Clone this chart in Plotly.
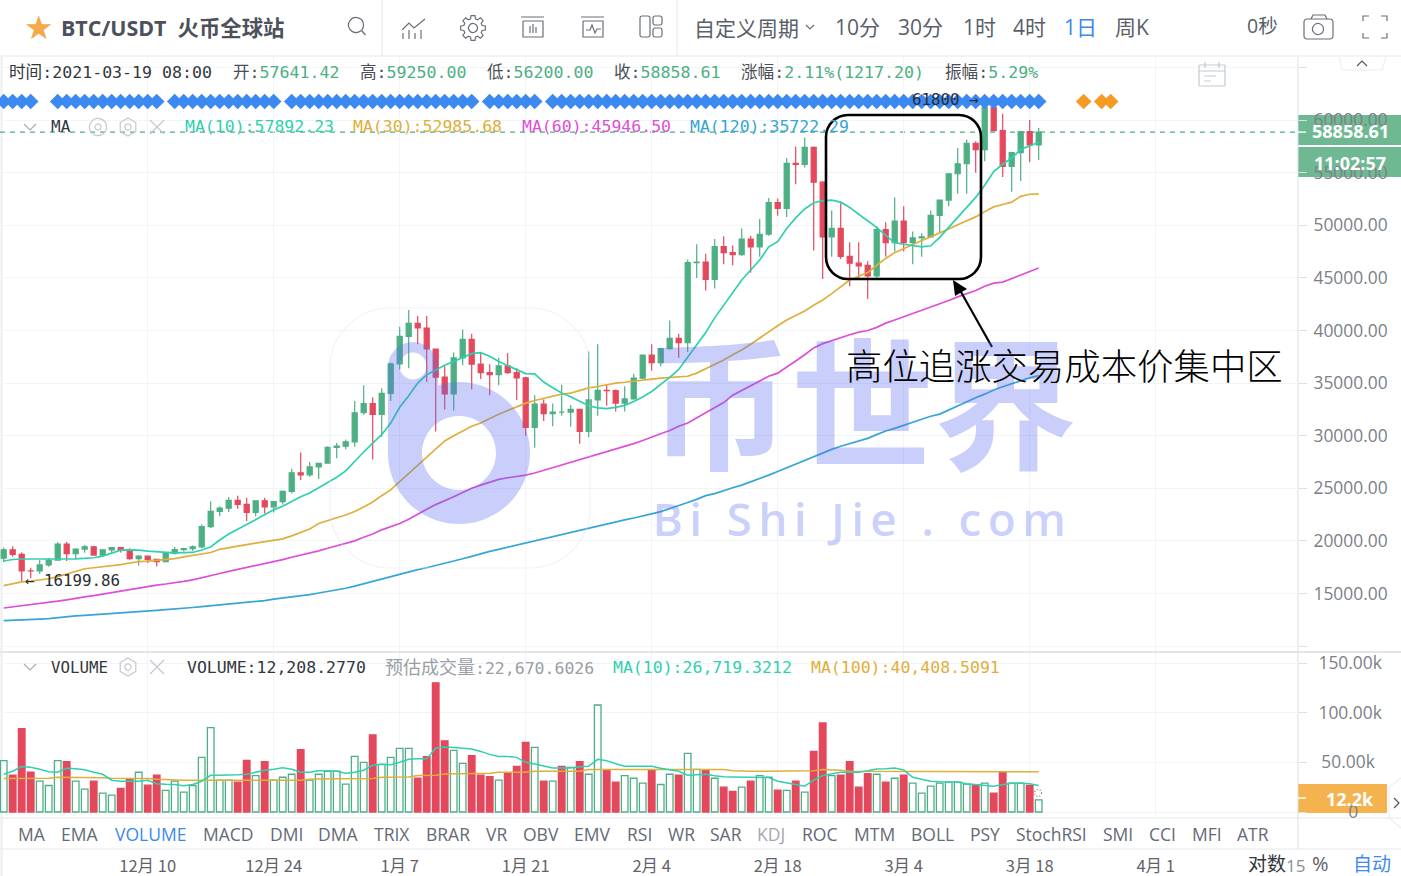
import math
import pandas as pd
import plotly.graph_objects as go

W, H = 1401, 876
START = "2020-11-24"
OPEN = [18365,19160,18720,17150,17140,17720,18180,19700,18790,19225,19440,18650,19150,19360,19170,18320,18550,18250,18030,18800,19170,19270,19440,21350,22800,23110,23850,23470,22720,23810,23240,23730,24700,26480,26280,27040,27380,28890,29000,29420,32180,33050,32030,34030,36820,39450,40670,40240,38240,35570,33970,37390,39150,36800,36000,35800,36630,36000,35500,30800,33000,32100,32250,32250,32500,30400,33400,34300,34280,33100,33500,35480,37650,36950,38280,39250,38850,46450,46500,44850,47980,47400,47200,48680,47950,49150,52150,51600,55900,55800,57400,54100,48900,49700,47050,46400,46200,45200,49600,48350,50400,48350,48800,48900,50950,52400,54900,55850,57800,57200,61200,59000,55600,56900,58900,57641.42]
HIGH = [19380,19480,18900,17450,18180,18350,19860,19920,19300,19600,19550,19180,19420,19420,19290,18630,18560,18280,18950,19420,19350,19570,21560,23770,23300,24170,24300,24100,23840,24100,23770,24790,26870,28400,27500,27390,29000,29300,29650,33300,34800,33650,34500,36930,40350,41950,41370,41380,38250,36600,37900,40100,39700,37950,36800,37400,37850,36400,35600,33850,33450,33050,34850,32920,32570,38000,38700,34900,34400,34700,35900,37700,38700,38300,40950,39700,46750,48200,47300,48700,48950,48100,49700,49000,50600,52600,52550,56400,57500,58350,57500,54200,51400,52100,48400,48400,46600,49900,50300,52650,51800,49400,49250,51400,52400,54900,57350,58150,58000,61800,61650,60600,56950,58900,60000,59250]
LOW = [18000,18500,16199.86,16450,16880,17550,18180,18100,18330,18880,18590,18500,18860,18900,18200,17650,17900,17570,18020,18700,19000,19050,19300,21230,22350,22750,23060,21900,22350,22600,22700,23430,24500,25800,26100,25880,27340,27850,28720,28940,32000,27730,29900,33300,36300,36400,38700,35100,30400,32500,32400,36700,34400,35400,33850,34800,35900,33400,30000,28850,31400,30900,31900,30840,29240,29850,31900,32850,32300,32300,33420,35380,36200,36600,38200,37400,37950,45000,43800,44000,46300,46200,47100,45500,47000,49000,50900,50800,53900,55500,47600,44900,47000,46800,44200,45000,43000,45000,47000,47500,47500,46300,47000,48850,49300,51800,53000,53000,55000,56100,59000,54600,53200,54200,56000,56200]
CLOSE = [19160,18720,17150,17140,17720,18180,19700,18790,19225,19440,18650,19150,19360,19170,18320,18550,18250,18030,18800,19170,19270,19440,21350,22800,23110,23850,23470,22720,23810,23240,23730,24700,26480,26280,27040,27380,28890,29000,29420,32180,33050,32030,34030,36820,39450,40670,40240,38240,35570,33970,37390,39150,36800,36000,35800,36630,36000,35500,30800,33000,32100,32250,32250,32500,30400,33400,34300,34280,33100,33500,35480,37650,36950,38280,39250,38850,46450,46500,44850,47980,47400,47200,48680,47950,49150,52150,51600,55900,55800,57400,54100,48900,49700,47050,46400,46150,45200,49600,48350,50400,48350,48800,48900,50950,52400,54900,55850,57800,57200,61200,59000,55600,56900,58900,57641.42,58858.61]
MA10 = [18090,18230,18280,18270,18270,18270,18270,18280,18300,18340,18400,18560,18820,19120,19140,19130,19020,18960,18880,18870,18880,18900,19140,19420,20080,20650,21100,21560,22000,22500,22950,23300,23780,24200,24550,25050,25500,26050,26650,27500,28450,29300,30100,31200,32700,33800,35000,35800,36250,36700,37050,37450,37800,37900,37550,37050,36650,36250,35900,35880,35100,34550,34050,33700,33250,32850,32640,32570,32700,32880,33250,33680,34200,34850,35550,36300,37450,38600,39800,41200,42400,43700,44800,45750,46700,47950,48450,49700,50700,51550,52150,52350,52400,52200,51700,51050,50450,49800,49050,48350,48200,48050,47950,48050,48850,49800,50750,51750,52650,53800,55100,55800,56400,57200,57550,57892.23]
MA30 = [15750,15950,16100,16170,16250,16400,16600,16850,17100,17350,17450,17550,17620,17750,17900,18030,18070,18130,18190,18320,18480,18630,18820,18900,19200,19380,19500,19650,19800,19950,20030,20200,20480,20800,21130,21650,21950,22200,22460,22800,23220,23700,24300,24850,25630,26400,27150,27950,28750,29500,30000,30450,30900,31200,31650,32030,32400,32770,33100,33350,33570,33780,33950,34050,34300,34550,34680,34850,35000,35080,35200,35300,35380,35470,35520,35560,35650,35950,36350,36750,37200,37700,38150,38700,39300,39900,40450,41000,41450,41850,42400,42900,43500,44150,44800,45150,45500,46200,46850,47400,47800,48150,48550,48900,49250,49650,50050,50450,50800,51300,51750,51980,52200,52750,52950,52985.68]
MA60 = [13620,13720,13800,13900,14000,14130,14270,14400,14570,14680,14800,14950,15100,15220,15360,15540,15720,15800,15900,16000,16150,16300,16480,16720,16900,17100,17280,17480,17680,17850,18000,18220,18450,18650,18820,19050,19300,19550,19800,20000,20350,20650,21050,21320,21650,22050,22550,23000,23450,23800,24200,24600,25000,25300,25600,25850,26000,26100,26250,26450,26700,27000,27250,27450,27700,27970,28200,28500,28750,29000,29250,29550,29900,30180,30500,30900,31200,31700,32150,32650,33150,33850,34300,34800,35200,35650,35950,36500,37100,37700,38350,38750,39050,39350,39600,39850,40000,40300,40700,41000,41300,41650,41950,42250,42500,42850,43200,43500,43800,44200,44500,44600,44950,45300,45650,45946.5]
MA120 = [12420,12440,12470,12520,12570,12620,12720,12810,12880,12930,12980,13030,13090,13150,13210,13280,13340,13400,13470,13520,13600,13670,13750,13830,13920,13990,14060,14140,14210,14330,14460,14560,14660,14780,14900,15050,15190,15340,15500,15700,15930,16170,16400,16650,16850,17050,17270,17450,17650,17870,18100,18300,18530,18800,19000,19200,19400,19600,19800,20000,20220,20450,20650,20850,21050,21250,21450,21650,21830,22000,22180,22350,22570,22780,23050,23350,23650,23950,24300,24500,24800,25050,25300,25600,25900,26250,26600,26950,27300,27650,28050,28400,28700,29000,29250,29500,29750,30100,30450,30700,31000,31300,31600,31850,32050,32450,32850,33250,33600,33950,34350,34650,34950,35250,35500,35722.29]
VOLUME = [51.7,37,84,40,31,26.7,51.7,50.7,31,23,31,19,17,23.7,33,40,27,37,21.7,31,20,26.7,55,85,32,32,30,52,36.7,50.7,32,35,38,62.7,32,38,41,41,28,56,50,77.7,48,55,64,64,34,55.7,130,71.7,62,49,56.7,37,35.7,32,39,46,70,65,31,31,46,45,50.7,38,107.7,42,30,36.7,34,29,42,27.7,38,37,59,43,42,34,25,20.7,25,31,36.7,35,22,21.7,31,20,61,89.7,36.7,37,50.7,25,38.7,38,30,34,37,29,19,26,29,30,30,28,26.7,29,19,40.7,29,29,26.7,12.2]
VOL_UP = [1,0,0,0,1,1,1,0,1,1,0,1,1,0,0,1,0,0,1,1,1,1,1,1,1,1,0,0,1,0,1,1,1,0,1,1,1,1,1,1,1,0,1,1,1,1,0,0,0,0,1,1,0,0,0,1,0,0,0,1,0,1,0,1,0,1,1,0,0,1,1,1,0,1,1,0,1,1,0,1,0,0,1,0,1,1,0,1,0,1,0,0,1,0,0,0,0,1,0,1,0,1,1,1,1,1,1,1,0,1,0,0,1,1,0,1]
VOL_MA10 = [38,41,45.7,45,43,40.5,40,44,43.5,42.5,40,38,32,31,31,31,32,28.5,28,27.7,26.5,27.7,31,37,37,37,37.5,38,40,42,43,44.5,43,40,40,41.5,41.5,41,39,40,42,47,48,47.5,50,53,53.5,53.5,64.5,65.5,65,64.5,63.5,61,58,56,56,55,50,48.3,46.5,44.3,44.3,44.3,45.5,46,53,51.7,48.5,46,46,46,46,44,42.7,41,37,37.5,38,36.5,35.5,35.3,35,34.7,34.7,34.7,31,29,27.7,26,32,36.7,38,40,40,40,41.5,43.3,43.5,44.3,42.3,35,33,31,30.5,30.3,30.3,28.5,27.7,27,26,27.5,29,29,28.5,26.7]
VOL_MA100 = [33.7,33.7,33.8,33.8,33.9,34,35,35,35,35,35,34.5,34,34,34,33.7,33.7,33,32.5,32,32,32,32,32,32,32,32,32,32,32,32,32,32,32,33,33.5,33.5,33.5,33.5,33.5,33.5,33.7,35,35,35,35.3,36.7,36.7,37,38.3,38.3,38.3,38.3,38.3,39,40,40,40,40,41,41,41,41,41,41,42.7,42.7,42.7,42.7,42.7,42.7,42.7,42.7,42.7,42.7,42.7,42.7,42.7,42.7,42.7,42.7,41.5,41,41,41,41,41,41,41,41,41.5,42.7,42.7,42,41,41,41,41,41,41,41,41,41,41,41,41,41,41,41,41,41,41,41,41,40.6,40.41]
PRICE_TICKS = [10000,15000,20000,25000,30000,35000,40000,45000,50000,55000,60000,65000]
PRICE_LABELS = ["","15000.00","20000.00","25000.00","30000.00","35000.00","40000.00","45000.00","50000.00","55000.00","60000.00",""]
VOL_TICKS = [0,50,100,150]
VOL_LABELS = ["\u2007\u2007\u20070","\u200950.00k","100.00k","150.00k"]
DATE_TICKS = ["2020-12-10","2020-12-24","2021-01-07","2021-01-21","2021-02-04","2021-02-18","2021-03-04","2021-03-18","2021-04-01"]
DATE_LABELS = ["12月 10","12月 24","1月 7","1月 21","2月 4","2月 18","3月 4","3月 18","4月 1"]
LAST_PRICE = 58858.61
EVENT_LEVEL = 61770
BLUE_GROUPS = [(0,3),(6,17),(19,30),(32,52),(54,59),(61,115)]
ORANGE_DAYS = [120,122,123]
MENU = [("MA",32),("EMA",79),("VOLUME",150),("MACD",228),("DMI",286),("DMA",338),("TRIX",392),("BRAR",448),("VR",496),("OBV",541),("EMV",592),("RSI",639),("WR",681),("SAR",726),("KDJ",771),("ROC",819),("MTM",874),("BOLL",932),("PSY",985),("StochRSI",1051),("SMI",1118),("CCI",1162),("MFI",1207),("ATR",1253)]
PERIODS = [("10分",857),("30分",920),("1时",979),("4时",1029),("1日",1080),("周K",1132)]

GREEN, RED = "#4daf83", "#e4485c"
C10, C30, C60, C120 = "#2fd0ae", "#dfae3c", "#dd4fd8", "#36a5d8"
BLUE = "#3c89f0"
UI = "Open Sans, Noto Sans CJK SC, sans-serif"
MONO = "DejaVu Sans Mono, Noto Sans CJK SC, monospace"
CJK = "Noto Sans CJK SC, sans-serif"
WM = "rgba(90,110,240,0.33)"

dates = pd.date_range(START, periods=len(CLOSE), freq="D")
day0 = pd.Timestamp("2020-12-10")
PX_PER_DAY, PX_DAY0 = 9.0, 147.7
PLOT_R = 1298
rng = [day0 + pd.Timedelta(days=(0 - PX_DAY0) / PX_PER_DAY), day0 + pd.Timedelta(days=(PLOT_R - PX_DAY0) / PX_PER_DAY)]

def fx(x): return x / W
def fy(y): return 1 - y / H
def val_at(y, ref_y, ref_v, k): return ref_v + (ref_y - y) / k

K_P = 0.01052
K_V = 0.9933
MAIN_T, MAIN_B, VOL_T, VOL_B, AX_Y = 57, 651, 653, 818, 849

def path(*cmds):
    out = []
    for c in cmds:
        out.append(c if isinstance(c, str) else f"{fx(c[0]):.5f},{fy(c[1]):.5f}")
    return " ".join(out)

def arc(cx, cy, r, a0, a1, move=False):
    n = max(1, int(abs(a1 - a0) // (math.pi / 2)) + 1)
    da = (a1 - a0) / n
    k = 4 / 3 * math.tan(da / 4)
    c = []
    for i in range(n):
        t0 = a0 + i * da; t1 = t0 + da
        p0 = (cx + r * math.cos(t0), cy + r * math.sin(t0))
        p1 = (cx + r * math.cos(t1), cy + r * math.sin(t1))
        if i == 0:
            c += ["M" if move else "L", p0]
        c += ["C", (p0[0] - k * r * math.sin(t0), p0[1] + k * r * math.cos(t0)),
              (p1[0] + k * r * math.sin(t1), p1[1] - k * r * math.cos(t1)), p1]
    return c

def circle(cx, cy, r):
    return arc(cx, cy, r, 0, 2 * math.pi, True) + ["Z"]

def rrect(x0, y0, x1, y1, r):
    pi = math.pi
    return (arc(x0 + r, y0 + r, r, pi, 1.5 * pi, True) + arc(x1 - r, y0 + r, r, 1.5 * pi, 2 * pi)
            + arc(x1 - r, y1 - r, r, 0, .5 * pi) + arc(x0 + r, y1 - r, r, .5 * pi, pi) + ["Z"])

shapes, anns = [], []

def sh_path(cmds, line=None, lw=1.2, fill="rgba(0,0,0,0)", layer="above", dash=None):
    ln = dict(color=line or "rgba(0,0,0,0)", width=lw if line else 0)
    if dash: ln["dash"] = dash
    shapes.append(dict(type="path", xref="paper", yref="paper", path=path(*cmds), line=ln, fillcolor=fill, layer=layer))

def rect(x0, y0, x1, y1, fill, layer="below"):
    shapes.append(dict(type="rect", xref="paper", yref="paper", x0=fx(x0), x1=fx(x1), y0=fy(y1), y1=fy(y0), fillcolor=fill, line=dict(width=0), layer=layer))

def hline(y, x0=0, x1=W, color="#e6e8eb", lw=1):
    shapes.append(dict(type="line", xref="paper", yref="paper", x0=fx(x0), x1=fx(x1), y0=fy(y), y1=fy(y), line=dict(color=color, width=lw), layer="below"))

def vline(x, y0, y1, color="#e6e8eb", lw=1):
    shapes.append(dict(type="line", xref="paper", yref="paper", x0=fx(x), x1=fx(x), y0=fy(y0), y1=fy(y1), line=dict(color=color, width=lw), layer="below"))

def text(x, y, s, color="#444", size=16, family=MONO, anchor="left", **kw):
    font = dict(color=color, size=size, family=family)
    if "weight" in kw: font["weight"] = kw.pop("weight")
    anns.append(dict(xref="paper", yref="paper", x=fx(x), y=fy(y), text=s, showarrow=False, xanchor=anchor, yanchor="middle", font=font, borderpad=0, borderwidth=0, **kw))

# ---- watermark ----
pi = math.pi
a_start = math.atan2(385 - 453, 438 - 459)
outer = (arc(413, 367, 25, pi, 2 * pi, True) + arc(459, 453, 71, a_start, pi) + ["L", (388, 367), "Z"])
sh_path(outer + circle(459, 453, 37) + circle(413, 366, 13.5), fill=WM)
sh_path(rrect(330, 308, 590, 568, 60), line="rgba(225,228,240,0.45)", lw=1.2)
text(862, 396, "<b>币世界</b>", color=WM, size=143, family=CJK, anchor="center")
text(862, 517.5, "Bi Shi Jie . com", color=WM, size=46, family="Open Sans, sans-serif", anchor="center", weight=600)

# ---- frame ----
rect(1298, 115, W, 145, "#6fb992")
rect(1298, 147, W, 177, "#6fb992")
rect(1298, 784, 1387, 813, "#f5b34f")
rect(0, 0, W, 56, "#ffffff")
hline(56); hline(652, color="#e3e5e8", lw=2); hline(VOL_B); hline(AX_Y)
vline(PLOT_R, 57, AX_Y, color="#dcdfe4"); vline(382, 0, 56); vline(677, 0, 56); vline(1.5, 57, H, color="#eceef1", lw=2)

# ---- header ----
text(24, 27, "★", color="#f5a94a", size=33, family="DejaVu Sans")
text(61, 27, "<b>BTC/USDT  火币全球站</b>", color="#4c515c", size=21.4, family=UI)
ic = "#6a6f78"
sh_path(circle(356, 25, 7.5), line=ic); sh_path(["M", (361.5, 30.5), "L", (365.5, 35)], line=ic)
sh_path(["M", (402, 30), "L", (409, 23), "L", (414, 28), "L", (425, 19)], line=ic)
for xx, top in [(403, 33), (409, 30), (415, 33), (421, 30)]:
    sh_path(["M", (xx, top), "L", (xx, 39)], line=ic)
gear = []
for i in range(8):
    a = i * pi / 4 - pi / 2
    for da, r in [(-.26, 9.5), (-.16, 12.5), (.16, 12.5), (.26, 9.5)]:
        gear += ["L" if gear else "M", (473 + r * math.cos(a + da), 28 + r * math.sin(a + da))]
sh_path(gear + ["Z"], line=ic); sh_path(circle(473, 28, 4.5), line=ic)
sh_path(["M", (521, 17), "L", (544, 17), "M", (523, 21), "L", (523, 37), "L", (543, 37), "L", (543, 21), "L", (523, 21), "M", (530, 26), "L", (530, 33), "M", (533, 24), "L", (533, 33), "M", (536, 27), "L", (536, 33)], line=ic)
sh_path(["M", (581, 17), "L", (604, 17), "M", (583, 21), "L", (583, 37), "L", (603, 37), "L", (603, 21), "L", (583, 21), "M", (586, 30), "L", (590, 30), "L", (592, 25), "L", (595, 33), "L", (597, 29), "L", (601, 29)], line=ic)
sh_path(rrect(640, 16, 650, 37, 2), line=ic); sh_path(rrect(653, 16, 662, 25, 2), line=ic); sh_path(rrect(653, 28, 662, 37, 2), line=ic)
text(694, 27, "自定义周期", color="#5a5f69", size=21, family=CJK)
sh_path(["M", (806, 25), "L", (810, 29), "L", (814, 25)], line=ic)
for s, x in PERIODS:
    text(x, 27, s, color=BLUE if s == "1日" else "#5a5f69", size=21, family=UI, anchor="center")
text(1262, 26, "0秒", color="#5a5f69", size=19.5, family=UI, anchor="center")
sh_path(rrect(1304, 19, 1333, 39, 3), line=ic); sh_path(circle(1318, 29, 5.5), line=ic); sh_path(["M", (1311, 19), "L", (1313, 15), "L", (1325, 15), "L", (1327, 19)], line=ic)
for a, b, c in [((1363, 21), (1363, 16), (1369, 16)), ((1381, 16), (1387, 16), (1387, 21)), ((1363, 33), (1363, 38), (1369, 38)), ((1381, 38), (1387, 38), (1387, 33))]:
    sh_path(["M", a, "L", b, "L", c], line=ic)

# ---- legend rows ----
G = GREEN
row = 72
for x, lab, v in [(9, "时间:", None), (233, "开:", "57641.42"), (360, "高:", "59250.00"), (487, "低:", "56200.00"), (614, "收:", "58858.61"), (741, "涨幅:", "2.11%(1217.20)"), (945, "振幅:", "5.29%")]:
    if v is None:
        text(x, row, lab + "2021-03-19 08:00", color="#33373d", size=16.6)
    else:
        text(x, row, f'{lab}<span style="color:{G}">{v}</span>', color="#4a4e55", size=16.6)
sh_path(["M", (24, 124), "L", (30, 130), "L", (36, 124)], line="#a8adb5")
text(51, 127, "MA", color="#33373d", size=16)
sh_path(circle(98, 127, 8.5), line="#c4c8ce"); sh_path(circle(98, 127, 3), line="#c4c8ce")
def hexa(cx, cy, r, col):
    pts = [(cx + r * math.sin(i * pi / 3), cy - r * math.cos(i * pi / 3)) for i in range(6)]
    sh_path(["M", pts[0]] + sum([["L", p] for p in pts[1:]], []) + ["Z"], line=col)
    sh_path(circle(cx, cy, r * .35), line=col)
def cross(cx, cy, r, col):
    sh_path(["M", (cx - r, cy - r), "L", (cx + r, cy + r), "M", (cx + r, cy - r), "L", (cx - r, cy + r)], line=col)
hexa(128, 127, 9, "#c4c8ce"); cross(157, 127, 7, "#c4c8ce")
for x, s, c in [(185, "MA(10):57892.23", C10), (353, "MA(30):52985.68", C30), (522, "MA(60):45946.50", C60), (690, "MA(120):35722.29", C120)]:
    text(x, 127, s, color=c, size=16.5)
sh_path(rrect(1199, 65, 1225, 86, 1), line="#c3c9d3")
sh_path(["M", (1199, 71), "L", (1225, 71), "M", (1205, 62), "L", (1205, 68), "M", (1219, 62), "L", (1219, 68), "M", (1204, 76), "L", (1216, 76), "M", (1204, 81), "L", (1211, 81)], line="#c3c9d3")
sh_path(["M", (1339, 57), "L", (1342, 70), "L", (1382, 70), "L", (1386, 57)], line="#eceef1")
sh_path(["M", (1357, 66), "L", (1362, 61), "L", (1367, 66)], line="#555")
sh_path(["M", (1394, 798), "L", (1399, 803), "L", (1394, 808)], line="#555")
sh_path(["M", (1401, 778), "L", (1389, 787), "L", (1389, 818), "L", (1401, 828)], line="#eceef1")

text(912, 100, "61800 →", color="#2a2d33", size=15.8)
text(25, 580, "← 16199.86", color="#2a2d33", size=15.8)

text(1350, 131, "<b>58858.61</b>", color="#fff", size=18, family=UI, anchor="center")
text(1350, 163, "<b>11:02:57</b>", color="#fff", size=18, family=UI, anchor="center")
text(1350, 799, "<b>12.2k</b>", color="#fff", size=18, family=UI, anchor="center")
shapes.append(dict(type="line", xref="paper", yref="y2", x0=fx(1298), x1=fx(1306), y0=LAST_PRICE, y1=LAST_PRICE, line=dict(color="#fff", width=1.4), layer="above"))
shapes.append(dict(type="line", xref="paper", yref="paper", x0=fx(1298), x1=fx(1306), y0=fy(798), y1=fy(798), line=dict(color="#fff", width=1.4), layer="above"))

# volume legend
sh_path(["M", (24, 664), "L", (30, 670), "L", (36, 664)], line="#a8adb5")
text(51, 667, "VOLUME", color="#33373d", size=15.8)
hexa(128, 667, 9, "#c4c8ce"); cross(157, 667, 7, "#c4c8ce")
text(187, 667, "VOLUME:12,208.2770", color="#33373d", size=16.5)
text(385, 667, '<span style="font-size:18px">预估成交量</span>:22,670.6026', color="#9a9ea6", size=16.5)
text(613, 667, "MA(10):26,719.3212", color=C10, size=16.5)
text(811, 667, "MA(100):40,408.5091", color=C30, size=16.5)
sh_path(circle(1038, 793, 3.5), line="#777", dash="1px,2px")

# indicator menu
for s, x in MENU:
    col = BLUE if s == "VOLUME" else ("#a4a8b0" if s == "KDJ" else "#646a76")
    text(x, 834, s, color=col, size=17.5, family=UI, anchor="center")
text(1248, 862.5, "对数", color="#33373d", size=19, family=CJK)
text(1286, 865, "15", color="#8a8e96", size=17, family=UI)
text(1312, 863, "%", color="#5a5f69", size=20, family=UI)
text(1353, 862.5, "自动", color=BLUE, size=19, family=CJK)

# hand-drawn highlight in the picture
sh_path(rrect(826, 115, 981, 279, 22), line="#000", lw=2.6)
sh_path(["M", (992, 347), "L", (961, 292)], line="#000", lw=2.2)
sh_path(["M", (953, 280), "L", (955, 296), "L", (967, 289), "Z"], fill="#000")
text(1064.5, 364, "高位追涨交易成本价集中区", color="#000", size=36.4, family=CJK, anchor="center", weight=300)

fig = go.Figure()
fig.add_trace(go.Candlestick(x=dates, open=OPEN, high=HIGH, low=LOW, close=CLOSE, xaxis="x2", yaxis="y2",
    increasing=dict(line=dict(color=GREEN, width=1.2), fillcolor=GREEN),
    decreasing=dict(line=dict(color=RED, width=1.2), fillcolor=RED), whiskerwidth=0, showlegend=False, hoverinfo="skip"))
for vals, col in [(MA120, C120), (MA60, C60), (MA30, C30), (MA10, C10)]:
    fig.add_trace(go.Scatter(x=dates, y=vals, mode="lines", line=dict(color=col, width=1.7), xaxis="x2", yaxis="y2", showlegend=False, hoverinfo="skip"))
for a, b in BLUE_GROUPS:
    fig.add_trace(go.Scatter(x=dates[a:b + 1], y=[EVENT_LEVEL] * (b - a + 1), mode="markers", marker=dict(symbol="diamond", size=12, color=BLUE, line=dict(width=0)), xaxis="x2", yaxis="y2", showlegend=False, hoverinfo="skip"))
fig.add_trace(go.Scatter(x=[dates[0] + pd.Timedelta(days=d) for d in ORANGE_DAYS], y=[EVENT_LEVEL] * 3, mode="markers", marker=dict(symbol="diamond", size=12, color="#f59a23", line=dict(width=0)), xaxis="x2", yaxis="y2", showlegend=False, hoverinfo="skip"))

bar_w = 6.6 / PX_PER_DAY * 86400000
fig.add_trace(go.Bar(x=dates, y=VOLUME, width=bar_w, marker=dict(color=["rgba(255,255,255,0)" if u else RED for u in VOL_UP], line=dict(color=[GREEN if u else RED for u in VOL_UP], width=1.3)), xaxis="x", yaxis="y", showlegend=False, hoverinfo="skip"))
fig.add_trace(go.Scatter(x=dates, y=VOL_MA100, mode="lines", line=dict(color=C30, width=1.5), xaxis="x", yaxis="y", showlegend=False, hoverinfo="skip"))
fig.add_trace(go.Scatter(x=dates, y=VOL_MA10, mode="lines", line=dict(color=C10, width=1.5), xaxis="x", yaxis="y", showlegend=False, hoverinfo="skip"))

grid = "#f2f4f7"
x_common = dict(range=rng, type="date", tickvals=DATE_TICKS, showgrid=True, gridcolor=grid, gridwidth=1, zeroline=False, showline=False, rangeslider=dict(visible=False), fixedrange=True, domain=[0, PLOT_R / W], automargin=False)
y_common = dict(side="right", showgrid=True, gridcolor=grid, zeroline=False, showline=False, ticks="outside", ticklen=8, tickcolor="#dcdfe4", tickfont=dict(family=UI, size=17.4, color="#7c8088"), ticklabelstandoff=3, fixedrange=True, automargin=False)
fig.update_layout(
    width=W, height=H, margin=dict(l=0, r=0, t=0, b=0, pad=0, autoexpand=False), paper_bgcolor="#ffffff", plot_bgcolor="rgba(0,0,0,0)",
    autosize=False, hovermode=False, showlegend=False, boxgap=0.2,
    xaxis=dict(x_common, ticktext=DATE_LABELS, anchor="free", position=fy(AX_Y), ticks="", tickfont=dict(family=CJK, size=16.5, color="#5f636b"), showticklabels=True, ticklabelstandoff=5),
    xaxis2=dict(x_common, anchor="y2", showticklabels=False, ticks=""),
    yaxis=dict(y_common, domain=[fy(VOL_B), fy(VOL_T)], anchor="x", range=[val_at(VOL_B, 812, 0, K_V), val_at(VOL_T, 812, 0, K_V)], tickvals=VOL_TICKS, ticktext=VOL_LABELS, ticklabelstandoff=8),
    yaxis2=dict(y_common, domain=[fy(MAIN_B), fy(MAIN_T)], anchor="x2", range=[val_at(MAIN_B, 593.5, 15000, K_P), val_at(MAIN_T, 593.5, 15000, K_P)], tickvals=PRICE_TICKS, ticktext=PRICE_LABELS),
    shapes=shapes + [dict(type="line", xref="paper", yref="y2", x0=0, x1=fx(PLOT_R), y0=LAST_PRICE, y1=LAST_PRICE, line=dict(color=GREEN, width=1.2, dash="5px,5px"), layer="below")],
    annotations=anns,
)
post = """document.body.style.margin='0';document.documentElement.style.overflow='hidden';
document.querySelectorAll('.annotation-text').forEach(function(t){if(t.textContent.indexOf('Bi Shi')===0){t.style.letterSpacing='6.3px';}});"""
fig.write_html("out.html", config=dict(displayModeBar=False, staticPlot=True), post_script=post)
